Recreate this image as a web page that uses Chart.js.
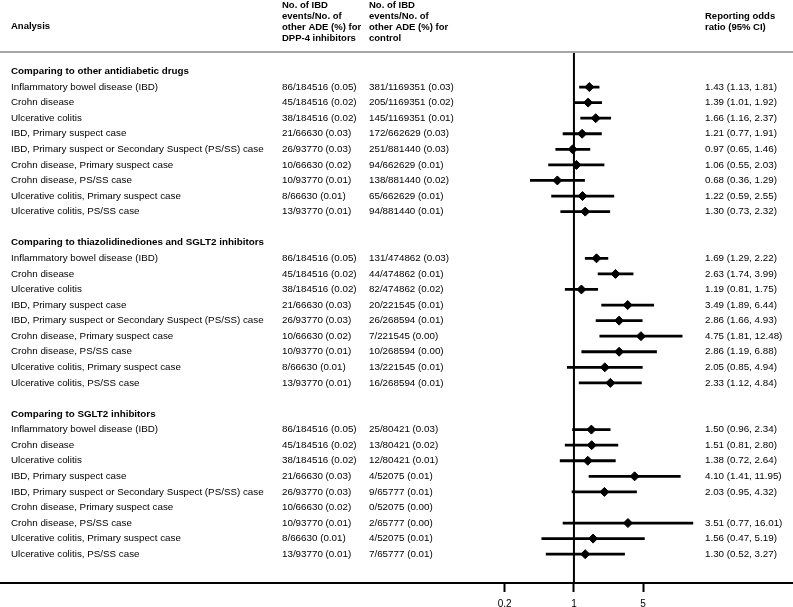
<!DOCTYPE html>
<html>
<head>
<meta charset="utf-8">
<title>Reporting odds ratio forest plot</title>
<script src="https://cdn.jsdelivr.net/npm/chart.js@4.4.1/dist/chart.umd.min.js"></script>
<style>
    html, body { margin: 0; padding: 0; background: #fff; }
    #wrap { width: 793px; height: 607px; position: relative; }
</style>
</head>
<body>
<div id="wrap"><canvas id="forestChart"></canvas></div>
<script>
// Rows and groups
const groupTitles = [
    'Comparing to other antidiabetic drugs',
    'Comparing to thiazolidinediones and SGLT2 inhibitors',
    'Comparing to SGLT2 inhibitors'
];
const analysisLabels = [
    'Inflammatory bowel disease (IBD)',
    'Crohn disease',
    'Ulcerative colitis',
    'IBD, Primary suspect case',
    'IBD, Primary suspect or Secondary Suspect (PS/SS) case',
    'Crohn disease, Primary suspect case',
    'Crohn disease, PS/SS case',
    'Ulcerative colitis, Primary suspect case',
    'Ulcerative colitis, PS/SS case'
];

// DPP-4 inhibitor column (same in every group)
const dppEvents = [
    '86/184516 (0.05)', '45/184516 (0.02)', '38/184516 (0.02)',
    '21/66630 (0.03)', '26/93770 (0.03)', '10/66630 (0.02)',
    '10/93770 (0.01)', '8/66630 (0.01)', '13/93770 (0.01)'
];

// Control columns
const controlEvents1 = [
    '381/1169351 (0.03)', '205/1169351 (0.02)', '145/1169351 (0.01)',
    '172/662629 (0.03)', '251/881440 (0.03)', '94/662629 (0.01)',
    '138/881440 (0.02)', '65/662629 (0.01)', '94/881440 (0.01)'
];
const controlEvents2 = [
    '131/474862 (0.03)', '44/474862 (0.01)', '82/474862 (0.02)',
    '20/221545 (0.01)', '26/268594 (0.01)', '7/221545 (0.00)',
    '10/268594 (0.00)', '13/221545 (0.01)', '16/268594 (0.01)'
];
const controlEvents3 = [
    '25/80421 (0.03)', '13/80421 (0.02)', '12/80421 (0.01)',
    '4/52075 (0.01)', '9/65777 (0.01)', '0/52075 (0.00)',
    '2/65777 (0.00)', '4/52075 (0.01)', '7/65777 (0.01)'
];

// Reporting odds ratios and 95% CI
const ror1   = [1.43, 1.39, 1.66, 1.21, 0.97, 1.06, 0.68, 1.22, 1.30];
const lower1 = [1.13, 1.01, 1.16, 0.77, 0.65, 0.55, 0.36, 0.59, 0.73];
const upper1 = [1.81, 1.92, 2.37, 1.91, 1.46, 2.03, 1.29, 2.55, 2.32];

const ror2   = [1.69, 2.63, 1.19, 3.49, 2.86, 4.75, 2.86, 2.05, 2.33];
const lower2 = [1.29, 1.74, 0.81, 1.89, 1.66, 1.81, 1.19, 0.85, 1.12];
const upper2 = [2.22, 3.99, 1.75, 6.44, 4.93, 12.48, 6.88, 4.94, 4.84];

const ror3   = [1.50, 1.51, 1.38, 4.10, 2.03, null, 3.51, 1.56, 1.30];
const lower3 = [0.96, 0.81, 0.72, 1.41, 0.95, null, 0.77, 0.47, 0.52];
const upper3 = [2.34, 2.80, 2.64, 11.95, 4.32, null, 16.01, 5.19, 3.27];

// Axis
const xTicks = [0.2, 1, 5];
const xMin = 0.0000016;
const xMax = 163;
const refValue = 1;

const controlEvents = [controlEvents1, controlEvents2, controlEvents3];
const rors = [ror1, ror2, ror3];
const lowers = [lower1, lower2, lower3];
const uppers = [upper1, upper2, upper3];

const FONT = '"Liberation Sans", Arial, Helvetica, sans-serif';
const ROWS_PER_GROUP = analysisLabels.length + 2;
const Y_MIN = -1.25;
const Y_MAX = 32.85;

function rowIndex(g, i) {
    return g * ROWS_PER_GROUP + 1 + i;
}

// Build marker and CI data
const pointData = [];
const ciData = [];
groupTitles.forEach((t, g) => {
    rors[g].forEach((v, i) => {
        if (v === null) return;
        const k = rowIndex(g, i);
        pointData.push({ x: v, y: k });
        ciData.push({ x: lowers[g][i], y: k });
        ciData.push({ x: uppers[g][i], y: k });
        ciData.push({ x: refValue, y: null });
    });
});

function fmtRor(g, i) {
    if (rors[g][i] === null) return '';
    return rors[g][i].toFixed(2) + ' (' + lowers[g][i].toFixed(2) + ', ' + uppers[g][i].toFixed(2) + ')';
}

// Draws the table text and the header rule
const tablePlugin = {
    id: 'tableText',
    afterDraw(chart) {
        const ctx = chart.ctx;
        const yScale = chart.scales.y;
        const colLabel = 11, colDpp = 282, colCtrl = 369, colRor = 705;

        ctx.save();
        ctx.fillStyle = '#000';
        ctx.textBaseline = 'middle';
        ctx.textAlign = 'left';

        // header
        ctx.font = 'bold 9.5px ' + FONT;
        ctx.fillText('Analysis', colLabel, 26);
        const hy = [5, 16.2, 27.4, 38.6];
        ['No. of IBD', 'events/No. of', 'other ADE (%) for', 'DPP-4 inhibitors']
            .forEach((s, j) => ctx.fillText(s, colDpp, hy[j]));
        ['No. of IBD', 'events/No. of', 'other ADE (%) for', 'control']
            .forEach((s, j) => ctx.fillText(s, colCtrl, hy[j]));
        ctx.fillText('Reporting odds', colRor, hy[1]);
        ctx.fillText('ratio (95% CI)', colRor, hy[2]);

        ctx.strokeStyle = '#a6a6a6';
        ctx.lineWidth = 2;
        ctx.beginPath();
        ctx.moveTo(0, 52);
        ctx.lineTo(chart.width, 52);
        ctx.stroke();

        groupTitles.forEach((title, g) => {
            ctx.font = 'bold 9.8px ' + FONT;
            ctx.fillText(title, colLabel, yScale.getPixelForValue(g * ROWS_PER_GROUP));
            ctx.font = '9.8px ' + FONT;
            analysisLabels.forEach((lab, i) => {
                const y = yScale.getPixelForValue(rowIndex(g, i));
                ctx.fillText(lab, colLabel, y);
                ctx.fillText(dppEvents[i], colDpp, y);
                ctx.fillText(controlEvents[g][i], colCtrl, y);
                ctx.fillText(fmtRor(g, i), colRor, y);
            });
        });
        ctx.restore();
    }
};

const ctx = document.getElementById('forestChart').getContext('2d');
const forestChart = new Chart(ctx, {
    type: 'scatter',
    data: {
        datasets: [
            {
                label: 'Reference',
                data: [{ x: refValue, y: Y_MIN }, { x: refValue, y: Y_MAX }],
                showLine: true,
                borderColor: '#000',
                borderWidth: 2,
                pointRadius: 0
            },
            {
                label: '95% CI',
                data: ciData,
                showLine: true,
                spanGaps: false,
                borderColor: '#000',
                borderWidth: 2.8,
                pointRadius: 0
            },
            {
                label: 'ROR',
                data: pointData,
                pointStyle: 'rectRot',
                pointRadius: 4.5,
                backgroundColor: '#000',
                borderColor: '#000',
                borderWidth: 1
            }
        ]
    },
    options: {
        responsive: true,
        maintainAspectRatio: false,
        animation: false,
        layout: { autoPadding: false, padding: { top: 52, left: 0, right: 0, bottom: 0 } },
        plugins: {
            legend: { display: false },
            tooltip: { enabled: false }
        },
        scales: {
            x: {
                type: 'logarithmic',
                position: 'bottom',
                min: xMin,
                max: xMax,
                afterBuildTicks: function(scale) {
                    scale.ticks = xTicks.map(v => ({ value: v }));
                },
                afterFit: function(scale) {
                    scale.height = 24;
                },
                grid: {
                    display: true,
                    drawOnChartArea: false,
                    drawTicks: true,
                    tickLength: 9,
                    tickWidth: 2,
                    tickColor: '#000'
                },
                border: { display: true, color: '#000', width: 2 },
                ticks: {
                    color: '#000',
                    padding: 6,
                    autoSkip: false,
                    maxRotation: 0,
                    font: { family: FONT, size: 10 },
                    callback: function(value) { return String(value); }
                }
            },
            y: {
                type: 'linear',
                display: false,
                reverse: true,
                min: Y_MIN,
                max: Y_MAX
            }
        }
    },
    plugins: [tablePlugin]
});
</script>
</body>
</html>
